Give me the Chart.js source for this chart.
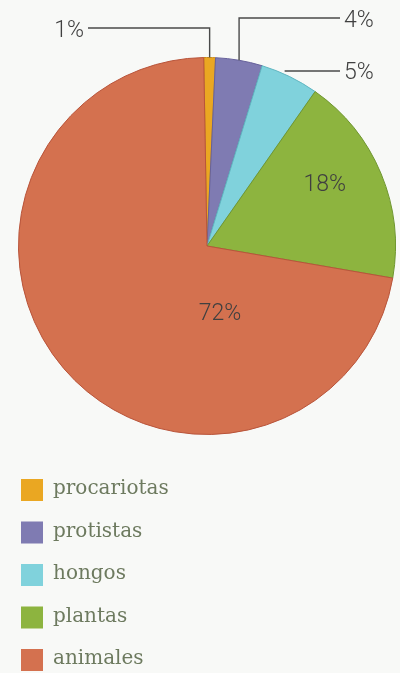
<!DOCTYPE html>
<html><head><meta charset="utf-8">
<script src="https://cdn.jsdelivr.net/npm/chart.js@4"></script>
<style>
html,body{margin:0;padding:0;background:#f8f9f7;}
#wrap{position:relative;width:400px;height:673px;}
</style></head>
<body><div id="wrap"><canvas id="c" width="400" height="673"></canvas></div>
<script>
const categories = ['procariotas','protistas','hongos','plantas','animales'];
const values = [1, 4, 5, 18, 72];
const labels = ['1%','4%','5%','18%','72%'];
const colors = ['#eaa722','#7f7bb2','#80d2dc','#8db43f','#d4714f'];
const borders = ['#c98a18','#66619a','#5fb5c0','#6f9630','#b8543a'];

const calloutPlugin = {
  id:'callouts',
  afterDatasetsDraw(chart){
    const ctx = chart.ctx;
    const arcs = chart.getDatasetMeta(0).data;
    ctx.save();
    ctx.strokeStyle = '#4a4a4a';
    ctx.lineWidth = 1.4;
    ctx.fillStyle = '#404040';
    ctx.font = '300 23px Roboto';
    ctx.textBaseline = 'middle';
    const pt = (a, f) => {
      const m = (a.startAngle + a.endAngle)/2;
      const r = a.outerRadius * f;
      return {x: a.x + Math.cos(m)*r, y: a.y + Math.sin(m)*r};
    };
    // 1% : vertical up then left
    let p = pt(arcs[0], 1.0);
    ctx.beginPath(); ctx.moveTo(p.x, p.y); ctx.lineTo(p.x, 28); ctx.lineTo(88, 28); ctx.stroke();
    ctx.textAlign = 'right'; ctx.fillText(labels[0], 84, 31);
    // 4% : vertical up then right
    p = pt(arcs[1], 1.0);
    ctx.beginPath(); ctx.moveTo(p.x, p.y); ctx.lineTo(p.x, 18); ctx.lineTo(340, 18); ctx.stroke();
    ctx.textAlign = 'left'; ctx.fillText(labels[1], 344, 21);
    // 5% : horizontal right
    p = pt(arcs[2], 1.0);
    ctx.beginPath(); ctx.moveTo(p.x - 5, 71); ctx.lineTo(340, 71); ctx.stroke();
    ctx.fillText(labels[2], 344, 73);
    // inner labels
    ctx.textAlign = 'center';
    p = pt(arcs[3], 0.66);
    ctx.fillText(labels[3], p.x + 3, p.y - 13);
    const a4 = arcs[4];
    ctx.fillText(labels[4], a4.x + 13, a4.y + 68);
    // legend
    ctx.font = '20px "DejaVu Serif"';
    ctx.textAlign = 'left';
    categories.forEach((c, i) => {
      const y = 479 + i*42.5;
      ctx.fillStyle = colors[i];
      ctx.fillRect(21, y, 22, 22);
      ctx.fillStyle = '#6d7a5f';
      ctx.fillText(c, 53, y + 10);
    });
    ctx.restore();
  }
};

new Chart(document.getElementById('c'), {
  type:'pie',
  data:{labels:categories, datasets:[{data:values, backgroundColor:colors, borderColor:borders, borderWidth:1}]},
  options:{
    responsive:false, animation:false, rotation:-1,
    layout:{padding:{left:18, right:4, top:57, bottom:238}},
    plugins:{legend:{display:false}, tooltip:{enabled:false}}
  },
  plugins:[calloutPlugin]
});
</script></body></html>
